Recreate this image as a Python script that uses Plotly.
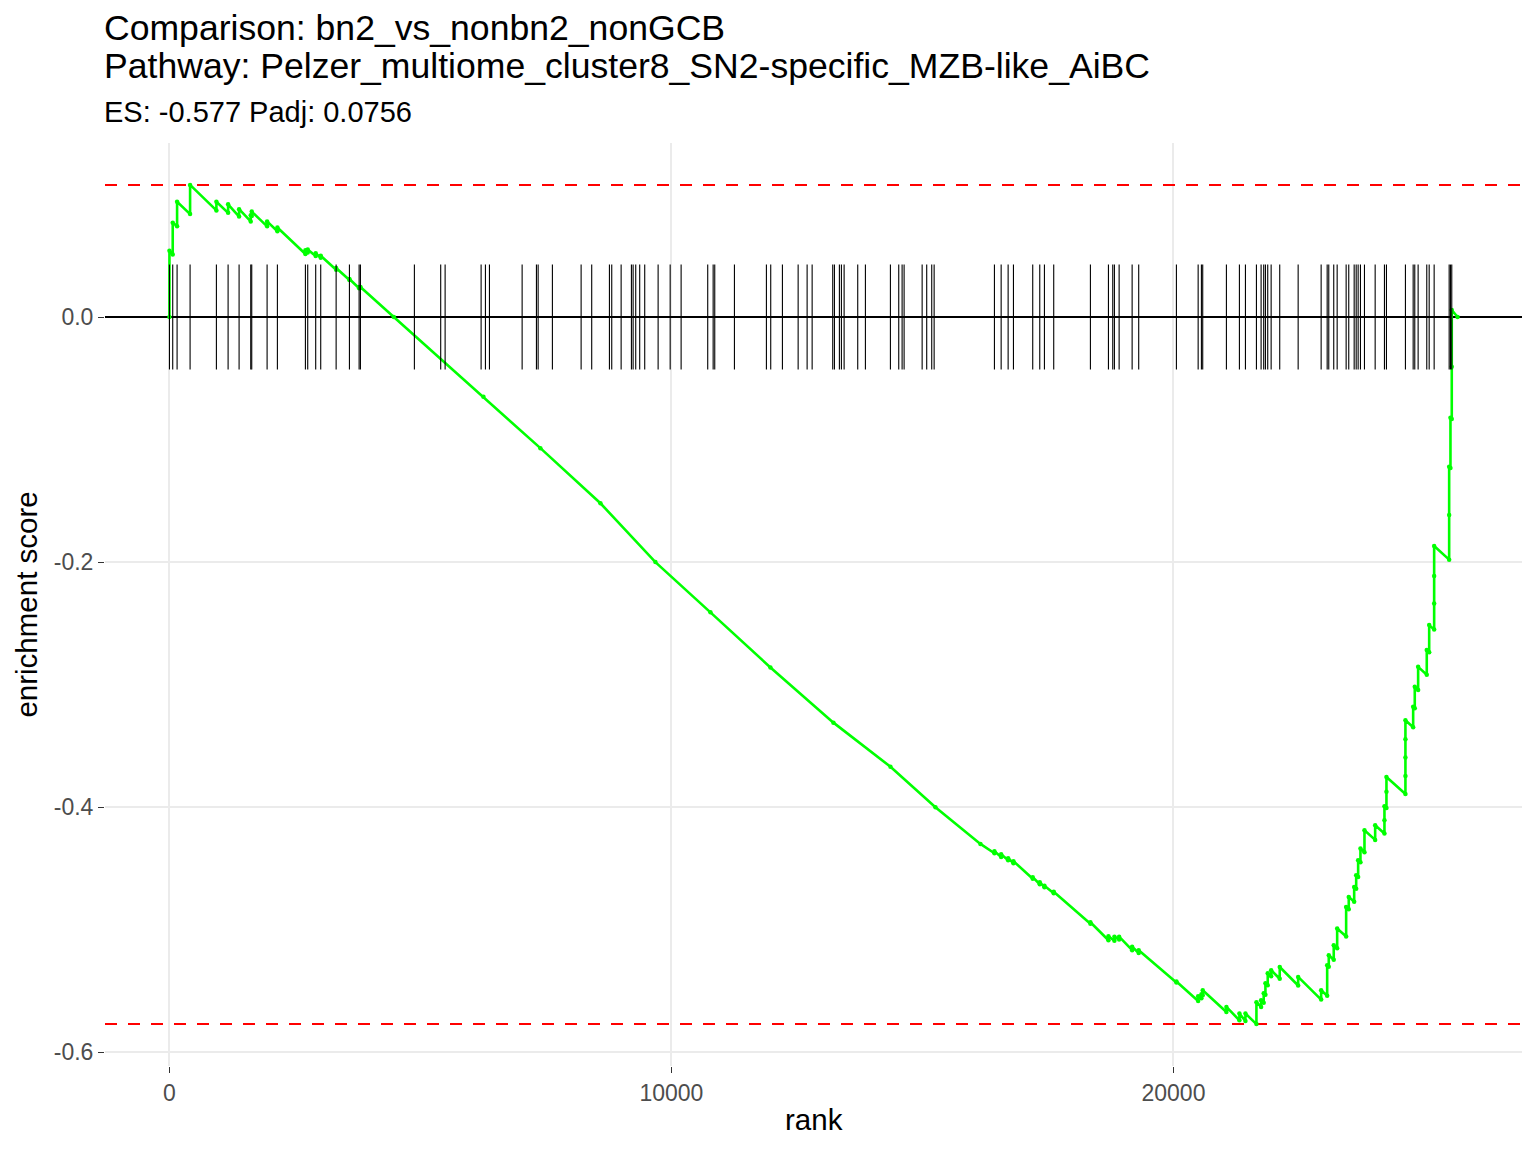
import plotly.graph_objects as go

# ---------------- data ----------------
title_line1 = "Comparison: bn2_vs_nonbn2_nonGCB"
title_line2 = "Pathway: Pelzer_multiome_cluster8_SN2-specific_MZB-like_AiBC"
subtitle = "ES: -0.577 Padj: 0.0756"
x_title = "rank"
y_title = "enrichment score"

x_tickvals = [0, 10000, 20000]
x_ticktext = ["0", "10000", "20000"]
y_tickvals = [0.0, -0.2, -0.4, -0.6]
y_ticktext = ["0.0", "-0.2", "-0.4", "-0.6"]

# ranks of the pathway genes (tick marks)
hit_ranks = [
    1, 66, 153, 412, 936, 1169, 1388, 1620, 1640, 1946, 2151, 2709, 2755, 2914, 3014,
    3321, 3586, 3779, 3805, 4880,
    5404, 5492, 6209, 6295, 6375, 7026, 7311, 7345, 7629, 8201, 8412, 8765, 8811, 8998,
    9203, 9237, 9289, 9368, 9468, 9735, 9975,
    10193, 10723, 10831, 10863, 11255, 11892, 11978, 12211, 12524, 12703, 12803, 13213,
    13247, 13346, 13386, 13440, 13711, 13864, 14362, 14528, 14595, 14635,
    14994, 15085, 15185, 15233, 16434, 16568, 16707, 16813, 17197, 17337, 17430, 17615,
    18346, 18705, 18791, 18824, 18918, 19177, 19308,
    20059, 20492, 20557, 20583, 21055, 21314, 21434, 21653, 21746, 21798, 21832, 21878,
    21946, 22117, 22484,
    22942, 23062, 23094, 23193, 23261, 23440, 23492, 23600, 23640, 23679, 23725, 23805,
    24018, 24203, 24243, 24621, 24775, 24807, 24874, 25046, 25094, 25193, 25492, 25518,
    25544,
]

# running enrichment-score curve vertices (rank, ES)
curve_rank = [
    0, 1, 66, 66, 153, 153, 412, 412, 936, 936, 1169, 1169, 1388, 1388, 1620, 1620,
    1640, 1640, 1946, 1946, 2151, 2151, 2709, 2709, 2755, 2755, 2914, 2914, 3014, 3014,
    3321, 3321, 3586, 3586, 3779, 3779, 3805, 3805,
    4470, 6255, 7390, 8586, 9681, 10777, 11972, 13227, 14363, 15259, 16155,
    16434, 16434, 16568, 16568, 16707, 16707, 16813, 16813, 17197, 17197, 17337, 17337,
    17430, 17430, 17615, 17615, 18346, 18346, 18705, 18705, 18824, 18824, 18918, 18918,
    19177, 19177, 19308, 19308, 20059, 20059, 20492, 20492, 20557, 20557, 20583, 20583,
    21055, 21055, 21314, 21314, 21434, 21434, 21653, 21653, 21746, 21746, 21798, 21798,
    21832, 21832, 21878, 21878, 21946, 21946, 22117, 22117, 22484, 22484, 22942, 22942,
    23062, 23062, 23094, 23094, 23193, 23193, 23261, 23261, 23440, 23440, 23492, 23492,
    23600, 23600, 23640, 23640, 23679, 23679, 23725, 23725, 23805, 23805, 24018, 24018,
    24203, 24203, 24203, 24243, 24243, 24243, 24621, 24621, 24621, 24621, 24621,
    24775, 24775, 24807, 24807, 24874, 24874, 25046, 25046, 25094, 25094,
    25193, 25193, 25193, 25193, 25492, 25492, 25492, 25518, 25518, 25544, 25544, 25544,
    25660,
]
curve_es = [
    0.0, 0.054, 0.051, 0.077, 0.074, 0.094, 0.084, 0.1078, 0.087, 0.094, 0.085, 0.092,
    0.082, 0.088, 0.078, 0.083, 0.0825, 0.086, 0.074, 0.078, 0.070, 0.073, 0.0514, 0.0544,
    0.0527, 0.055, 0.0497, 0.052, 0.0483, 0.050, 0.0385, 0.040, 0.0302, 0.031, 0.0235,
    0.0245, 0.0236, 0.0245,
    0.0, -0.065, -0.107, -0.152, -0.200, -0.241, -0.286, -0.331, -0.367, -0.400, -0.430,
    -0.4376, -0.436, -0.4406, -0.4384, -0.4433, -0.4416, -0.4457, -0.4441, -0.4584,
    -0.4571, -0.4629, -0.4612, -0.4653, -0.4641, -0.4702, -0.469, -0.4951, -0.4939,
    -0.5086, -0.5053, -0.509, -0.5057, -0.508, -0.5057, -0.5167, -0.5139, -0.519,
    -0.5167, -0.5431, -0.5423, -0.5581, -0.5543, -0.5559, -0.5527, -0.5535, -0.5494,
    -0.5671, -0.5630, -0.5739, -0.5684, -0.5745, -0.5684, -0.5770, -0.5592, -0.5630,
    -0.5576, -0.5596, -0.5518, -0.5530, -0.5437, -0.5453, -0.5355, -0.5380, -0.5331,
    -0.5400, -0.5304, -0.5455, -0.5385, -0.5570, -0.5494,
    -0.5538, -0.5290, -0.5302, -0.5208, -0.5245, -0.5127, -0.5152, -0.4990, -0.5056,
    -0.4814, -0.4833, -0.4732, -0.4772, -0.4651, -0.4666, -0.4555, -0.4569, -0.4433,
    -0.4450, -0.4337, -0.4367, -0.4188, -0.4267, -0.4147,
    -0.4215, -0.4106, -0.3992, -0.4007, -0.3875, -0.3753, -0.3893, -0.3745, -0.3594,
    -0.3445, -0.3290, -0.3347, -0.3180, -0.3192, -0.3018, -0.3043, -0.2855, -0.2919,
    -0.2718, -0.2736, -0.2514,
    -0.2551, -0.2337, -0.2114, -0.1869, -0.1980, -0.1616, -0.1222, -0.1232, -0.0822,
    -0.0832, -0.0405, 0.0057,
    0.0,
]

# ---------------- figure ----------------
FONT = "Liberation Sans, Arial, Helvetica, sans-serif"
GREEN = "#00FF00"
X_RANGE = [-1283, 26943]
Y_RANGE = [-0.6112, 0.142]

es_max = max(curve_es)
es_min = min(curve_es)
tick_half = (es_max - es_min) / 16.0

tick_x, tick_y = [], []
for r in hit_ranks:
    tick_x += [r, r, None]
    tick_y += [-tick_half, tick_half, None]

fig = go.Figure()
# horizontal reference lines (max / min ES dashed red, zero black)
for yv in (es_max, es_min):
    fig.add_trace(go.Scatter(
        x=X_RANGE, y=[yv, yv], mode="lines",
        line=dict(color="#FF0000", width=2, dash="12px,11px"),
        hoverinfo="skip", showlegend=False,
    ))
fig.add_trace(go.Scatter(
    x=X_RANGE, y=[0, 0], mode="lines",
    line=dict(color="black", width=2),
    hoverinfo="skip", showlegend=False,
))
fig.add_trace(go.Scatter(
    x=curve_rank, y=curve_es, mode="lines+markers",
    line=dict(color=GREEN, width=2.6),
    marker=dict(color=GREEN, size=4.5),
    hoverinfo="skip", showlegend=False,
))
fig.add_trace(go.Scatter(
    x=tick_x, y=tick_y, mode="lines",
    line=dict(color="black", width=1.1),
    hoverinfo="skip", showlegend=False,
))

# page has an 8px body margin: figure is 1520x1136 so that the page is 1536x1152
fig.update_layout(
    width=1520, height=1136,
    margin=dict(l=97, r=6, t=135, b=78, autoexpand=False),
    paper_bgcolor="white", plot_bgcolor="white",
    font=dict(family=FONT, color="black"),
    showlegend=False,
    xaxis=dict(
        range=X_RANGE, tickvals=x_tickvals, ticktext=x_ticktext,
        showgrid=True, gridcolor="#EBEBEB", gridwidth=1.6, zeroline=False,
        ticks="outside", ticklen=6, tickwidth=1.2, tickcolor="#333333",
        tickfont=dict(size=23, color="#4D4D4D", family=FONT), showline=False,
    ),
    yaxis=dict(
        range=Y_RANGE, tickvals=y_tickvals, ticktext=y_ticktext,
        showgrid=True, gridcolor="#EBEBEB", gridwidth=1.6, zeroline=False,
        ticks="outside", ticklen=6, tickwidth=1.2, tickcolor="#333333",
        tickfont=dict(size=23, color="#4D4D4D", family=FONT), showline=False,
    ),
)

def ann(text, x, y, size, **kw):
    fig.add_annotation(text=text, x=x, y=y, xref="paper", yref="paper",
                       showarrow=False, font=dict(size=size, family=FONT, color="black"), **kw)

ann(title_line1, -0.0018, 1.1246, 35.6, xanchor="left", yanchor="middle")
ann(title_line2, -0.0018, 1.0834, 35.6, xanchor="left", yanchor="middle")
ann(subtitle, -0.0018, 1.0336, 29, xanchor="left", yanchor="middle")
ann(x_title, 0.5, -0.0585, 29.5, xanchor="center", yanchor="middle")
ann(y_title, -0.0557, 0.5, 29.5, xanchor="center", yanchor="middle", textangle=-90)

fig.write_html("out.html")
